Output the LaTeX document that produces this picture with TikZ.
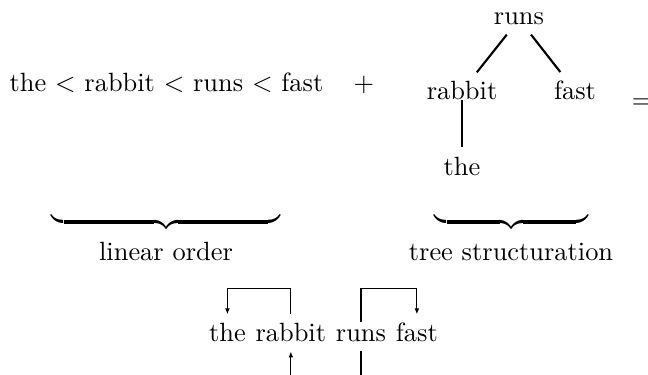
\documentclass[tikz,border=0pt]{standalone}
\usetikzlibrary{arrows.meta,positioning}
\begin{document}
\begin{tikzpicture}[x=0.3788pt,y=-0.3788pt,
  txt/.style={anchor=base},
  edge/.style={line width=0.8pt},
  word/.style={inner sep=0pt, text height=6.94pt, text depth=0pt},
  dep/.style={line width=0.4pt,-{Latex[length=2.2pt,width=1.8pt]}},
  brace/.style={inner sep=0pt, anchor=north},
  plain/.style={line width=0.4pt}]
\useasboundingbox (0,0) rectangle (648,374);
% linear order line
\node[txt] (lin) at (166.5,92) {the $<$ rabbit $<$ runs $<$ fast};
\node[txt] (plus) at (364,92) {$+$};
% tree
\node[txt] (runs) at (519,25) {runs};
\node[txt] (rabbit) at (462,100) {rabbit};
\node[txt] (fast) at (575,100) {fast};
\node[txt] (the) at (462,175) {the};
\node[txt] (eq) at (642,108.6) {$=$};
\draw[edge] (runs) -- (rabbit);
\draw[edge] (runs) -- (fast);
\draw[edge] (rabbit.base) -- (the);
% braces
\node[brace] (lb) at (166,212) {$\underbrace{\hbox to 86.4pt{}}$};
\node[txt] (lo) at (166,260) {linear order};
\node[brace] (rb) at (511.5,212) {$\underbrace{\hbox to 58pt{}}$};
\node[txt] (ts) at (511,260) {tree structuration};
% dependency sentence
\node[word, anchor=base] (w1) at (227.4,341) {the};
\node[word, base right=3.33pt of w1] (w2) {rabbit};
\node[word, base right=3.33pt of w2] (w3) {runs};
\node[word, base right=3.33pt of w3] (w4) {fast};
\coordinate (bot) at (0,380);
\draw[dep] ([yshift=3pt]w2.north) -- ++(0,9.8pt) -| ([yshift=3pt]w1.north);
\draw[dep] (w3.north) -- ++(0,12.8pt) -| ([yshift=3pt]w4.north);
\draw[dep] (w2.south |- bot) -- ([yshift=-3.8pt]w2.south);
\draw[plain] ([yshift=-3.4pt]w3.south) -- (w3.south |- bot);
\end{tikzpicture}
\end{document}
